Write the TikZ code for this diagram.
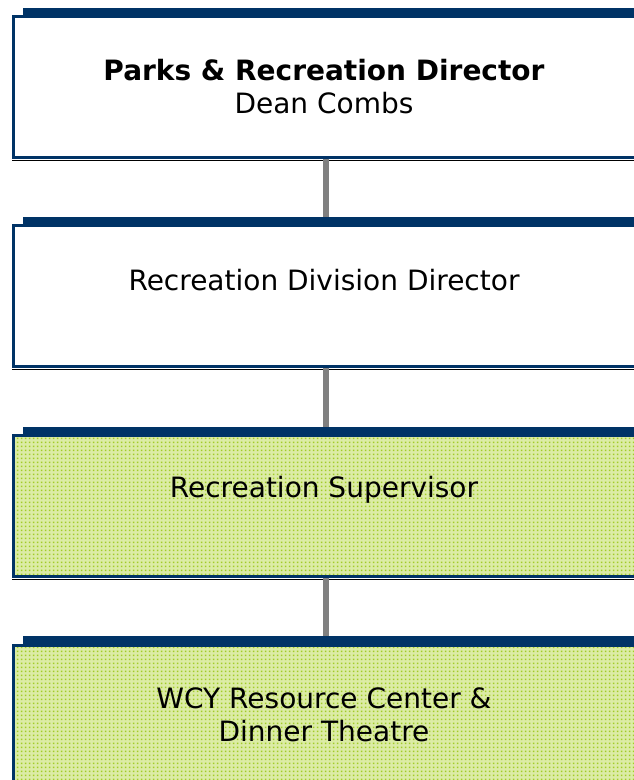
\documentclass[tikz,border=0pt]{standalone}
\usepackage{fontspec}
\setmainfont{DejaVu Sans}
\usetikzlibrary{patterns.meta}
\definecolor{navy}{HTML}{003366}
\definecolor{shade}{HTML}{8FA8C8}
\definecolor{conngray}{HTML}{808080}
\definecolor{pale}{HTML}{DCECA6}
\definecolor{dotgreen}{HTML}{A2CC28}
\tikzdeclarepattern{
  name=gdots,
  type=uncolored,
  bounding box={(0pt,0pt) and (4pt,4pt)},
  tile size={(4pt,4pt)},
  code={\pgfpathrectangle{\pgfpoint{1pt}{1pt}}{\pgfpoint{2pt}{2pt}}\pgfusepath{fill}}
}
\tikzset{
  box/.style={rectangle, draw=navy, line width=2.5pt, fill=white, minimum width=625pt, minimum height=141pt, anchor=north west, inner sep=0pt},
  greenbox/.style={box, preaction={fill=pale}, pattern={gdots}, pattern color=dotgreen},
  bar/.style={rectangle, fill=navy, minimum width=620pt, minimum height=8pt, anchor=north west, inner sep=0pt},
  conn/.style={draw=conngray, line width=5.5pt},
  lbl/.style={font=\fontsize{28}{33.5}\selectfont, align=center, inner sep=0pt, text=black},
}
\begin{document}
\begin{tikzpicture}[x=1pt,y=-1pt]
\useasboundingbox (0,0) rectangle (634,780);
% boxes
\node[box] (b1) at (12,15) {};
\node[bar] (bar1) at (23,8) {};
\node[box] (b2) at (12,224) {};
\node[bar] (bar2) at (23,217) {};
\node[greenbox] (b3) at (12,434) {};
\node[bar] (bar3) at (23,427) {};
\node[greenbox] (b4) at (12,644) {};
\node[bar] (bar4) at (23,636) {};
% shadow lines under boxes
\foreach \b in {b1,b2,b3} {
  \draw[shade, line width=1.5pt] ([yshift=-1.8pt]\b.south west) -- ([yshift=-1.8pt]\b.south east);
}
% connectors
\draw[conn] (b1.south) -- (b1.south |- bar2.north);
\draw[conn] (b2.south) -- (b2.south |- bar3.north);
\draw[conn] (b3.south) -- (b3.south |- bar4.north);
% labels
\node[lbl] (t1) at (324,86.5) {\textbf{Parks \& Recreation Director}\\Dean Combs};
\node[lbl] (t2) at (324,280) {Recreation Division Director};
\node[lbl] (t3) at (324,490) {Recreation Supervisor};
\node[lbl] (t4) at (324,715) {WCY Resource Center \&\\Dinner Theatre};
\end{tikzpicture}
\end{document}
